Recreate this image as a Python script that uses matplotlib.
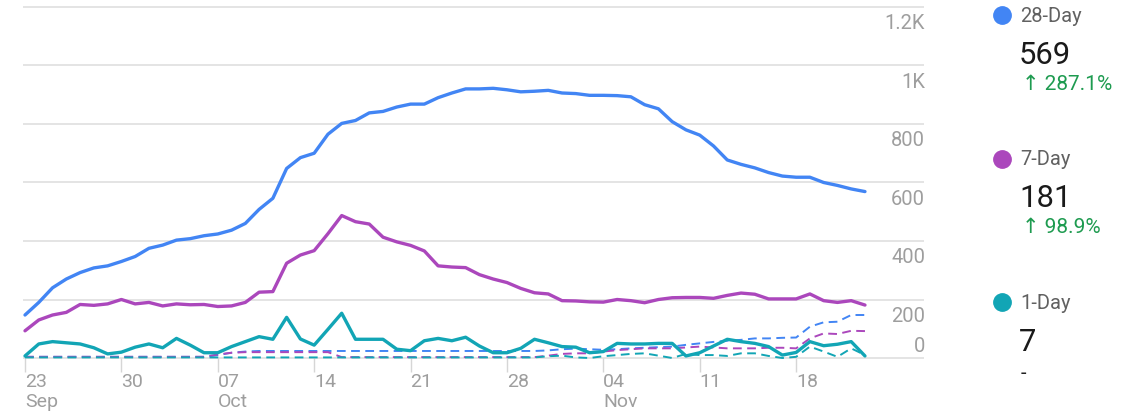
"""
Active users chart (28-Day / 7-Day / 1-Day) with previous period as dashed lines
"""
import numpy as np
import matplotlib as mpl
mpl.use('Agg')
import matplotlib.pyplot as plt
from matplotlib import transforms
from matplotlib.lines import Line2D

plt.rcParams['font.family'] = ['Roboto', 'DejaVu Sans']


### data (one value per day, 23 Sep - 23 Nov)
users_28d = np.array([
	147, 190, 240, 270, 292, 308, 315, 330, 347, 375,
	386, 403, 408, 418, 424, 437, 460, 508, 546, 648,
	685, 700, 765, 802, 812, 838, 843, 858, 868, 868,
	890, 906, 920, 920, 922, 917, 910, 912, 915, 906,
	904, 898, 898, 897, 893, 866, 852, 808, 780, 762,
	725, 677, 662, 650, 634, 622, 618, 618, 600, 590,
	578, 569,
])
users_7d = np.array([
	93, 130, 147, 156, 183, 180, 185, 200, 185, 190,
	178, 185, 182, 183, 176, 178, 190, 225, 227, 324,
	352, 367, 425, 487, 466, 458, 413, 397, 385, 366,
	315, 311, 309, 285, 270, 258, 238, 223, 219, 196,
	195, 192, 191, 200, 196, 189, 200, 206, 207, 207,
	204, 214, 222, 218, 202, 202, 202, 219, 196, 190,
	196, 181,
])
users_1d = np.array([
	7, 48, 56, 52, 48, 35, 14, 20, 37, 48,
	35, 67, 44, 18, 18, 39, 56, 73, 64, 139,
	65, 44, 98, 153, 64, 64, 64, 30, 25, 59,
	67, 59, 71, 41, 18, 18, 33, 64, 52, 39,
	37, 18, 22, 50, 48, 48, 50, 50, 7, 18,
	41, 64, 56, 50, 39, 10, 19, 56, 42, 47,
	56, 7,
])

# previous period (dashed)
prev_28d = np.array([
	4, 4, 4, 4, 4, 4, 4, 4, 4, 4,
	4, 4, 4, 4, 10, 18, 22, 24, 24, 24,
	24, 24, 24, 24, 24, 24, 24, 24, 24, 24,
	24, 24, 24, 24, 24, 24, 24, 24, 26, 30,
	32, 30, 28, 30, 33, 35, 37, 39, 45, 50,
	55, 59, 62, 67, 67, 69, 70, 107, 122, 124,
	147, 147,
])
prev_7d = np.array([
	4, 4, 4, 4, 4, 4, 4, 4, 4, 4,
	4, 4, 4, 4, 12, 18, 20, 20, 20, 20,
	20, 20, 20, 3, 3, 3, 3, 3, 3, 3,
	3, 3, 3, 3, 3, 3, 3, 3, 8, 14,
	16, 16, 22, 27, 30, 33, 33, 33, 36, 39,
	36, 33, 33, 33, 35, 35, 33, 67, 84, 82,
	93, 92,
])
prev_1d = np.array([
	2, 2, 2, 2, 2, 2, 2, 2, 2, 2,
	2, 2, 2, 2, 2, 2, 2, 2, 2, 2,
	2, 2, 2, 2, 2, 2, 2, 2, 2, 2,
	2, 2, 2, 2, 2, 2, 2, 2, 6, 8,
	2, 0, 6, 10, 14, 16, 8, 0, 14, 10,
	10, 7, 16, 16, 7, 0, 4, 39, 22, 4,
	33, 10,
])
days = np.arange(len(users_28d))

tick_days = [0, 7, 14, 21, 28, 35, 42, 49, 56]
tick_labels = ['23\nSep', '30', '07\nOct', '14', '21', '28', '04\nNov', '11', '18']
y_vals = [0, 200, 400, 600, 800, 1000, 1200]
y_labels = ['0', '200', '400', '600', '800', '1K', '1.2K']

series_names = ['28-Day', '7-Day', '1-Day']
series_change = ['\u2191 287.1%', '\u2191 98.9%', '-']
colors = ['#4285f4', '#ab47bc', '#12a5b5']


### plot
W, H = 1140, 416
fig = plt.figure(figsize=(W/100, H/100), dpi=100)
ax = fig.add_axes([23/W, 58/H, (924-23)/W, 351/H])
ax.set_xlim(-2/13.77, (924-25)/13.77)
ax.set_ylim(0, 1200)
for s in ax.spines.values():
	s.set_visible(False)

ax.hlines(y_vals, ax.get_xlim()[0], ax.get_xlim()[1], color='#e4e4e4', lw=1.4, clip_on=False, zorder=0)
ax.set_yticks([])

trans = transforms.blended_transform_factory(ax.transAxes, ax.transData)
for v, lab in zip(y_vals, y_labels):
	dy = 5.7 if v == 0 else -22.3
	t = transforms.offset_copy(trans, fig=fig, x=1, y=dy, units='dots')
	ax.text(1.0, v, lab, transform=t, ha='right', va='baseline', fontsize=14.5, color='#9e9e9e')

ax.set_xticks(tick_days)
ax.set_xticklabels(tick_labels, ha='left', linespacing=1.1)
ax.tick_params(axis='x', length=10, width=1, color='#d6d6d6', labelcolor='#9e9e9e', labelsize=14, pad=1)

for prev, c in zip([prev_28d, prev_7d, prev_1d], colors):
	ax.plot(days, prev, color=c, lw=1.4, dashes=(4.5, 2.8), clip_on=False, zorder=2)
for cur, c in zip([users_28d, users_7d, users_1d], colors):
	ax.plot(days, cur, color=c, lw=2.4, solid_joinstyle='round', solid_capstyle='round', clip_on=False, zorder=3)

### legend on the right
for i, (name, cur, chg, c) in enumerate(zip(series_names, [users_28d, users_7d, users_1d], series_change, colors)):
	y0 = 15 + i*143.5
	fig.add_artist(Line2D([1002/W], [1 - y0/H], marker='o', ms=12.5, color=c, transform=fig.transFigure))
	fig.text(1020/W, 1 - (y0 + 6.7)/H, name, fontsize=14.5, color='#616161', va='baseline')
	fig.text(1019/W, 1 - (y0 + 49)/H, str(cur[-1]), fontsize=22.3, color='#1a1a1a', va='baseline')
	if chg == '-':
		fig.text(1021/W, 1 - (y0 + 77)/H, chg, fontsize=14.5, color='#212121', va='baseline')
	else:
		fig.text(1022/W, 1 - (y0 + 75)/H, chg, fontsize=15, color='#1e9b50', va='baseline')

fig.savefig('out.png', dpi=100)
